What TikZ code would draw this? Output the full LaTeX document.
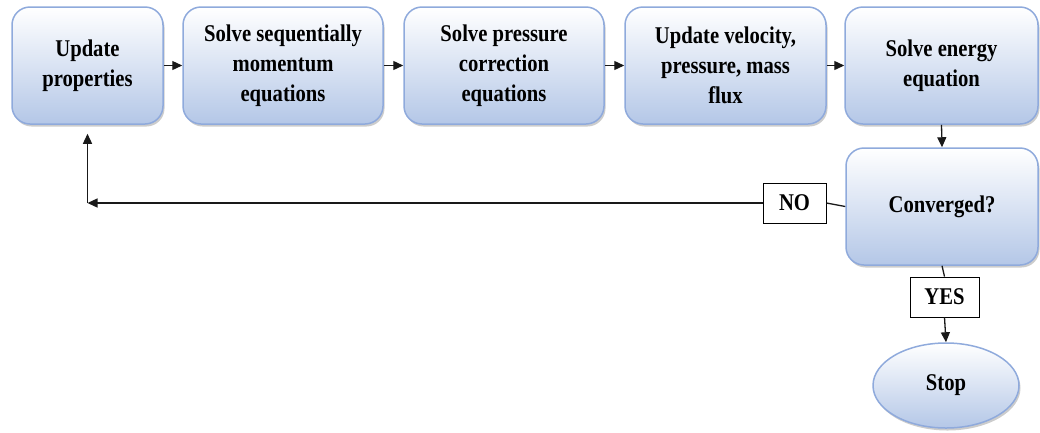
\documentclass[tikz,border=0pt]{standalone}
\usepackage{fontspec}
\setmainfont{Liberation Serif}[FakeStretch=0.86]
\usetikzlibrary{shapes.geometric,shadows,arrows.meta}
\definecolor{boxblue}{HTML}{B4C7E7}
\definecolor{edgeblue}{HTML}{8FAADC}
\begin{document}
\begin{tikzpicture}[x=1pt,y=-1pt,
  txt/.style={font=\fontsize{24}{30}\selectfont\bfseries},
  stepbox/.style={txt, rounded corners=18pt, draw=edgeblue, line width=1.5pt,
    top color=white, bottom color=boxblue, minimum height=117pt, inner sep=0pt,
    align=center,
    drop shadow={opacity=0.4, shadow xshift=1.5pt, shadow yshift=-2.5pt}},
  endshape/.style={txt, ellipse, draw=edgeblue, line width=1.5pt,
    top color=white, bottom color=boxblue, minimum width=146pt, minimum height=85pt,
    inner sep=0pt,
    drop shadow={opacity=0.4, shadow xshift=1.5pt, shadow yshift=-2.5pt}},
  lblbox/.style={txt, draw=black, line width=0.9pt, fill=white, inner sep=0pt},
  conn/.style={line width=1.3pt, draw=black!90},
  arr/.style={-{Triangle[length=10pt,width=9pt]}}
]
\useasboundingbox (0,0) rectangle (1040,432);

\node[stepbox, minimum width=151pt] (b1) at (87.5,65.5) {Update\\properties};
\node[stepbox, minimum width=200pt] (b2) at (283,65.5) {Solve sequentially\\momentum\\equations};
\node[stepbox, minimum width=200pt] (b3) at (504,65.5) {Solve pressure\\correction\\equations};
\node[stepbox, minimum width=201pt] (b4) at (725.5,65.5) {Update velocity,\\pressure, mass\\flux};
\node[stepbox, minimum width=193pt] (b5) at (941.5,65.5) {Solve energy\\equation};
\node[stepbox, minimum width=192pt] (conv) at (942,206.5) {Converged?};
\node[lblbox, minimum width=63pt, minimum height=40pt] (no) at (794.5,203) {NO};
\node[lblbox, minimum width=69pt, minimum height=40pt] (yes) at (944.5,297) {YES};
\node[endshape] (stop) at (946,385.5) {Stop};

\draw[conn,arr] (b1) -- (b2);
\draw[conn,arr] (b2) -- (b3);
\draw[conn,arr] (b3) -- (b4);
\draw[conn,arr] (b4) -- (b5);
\draw[conn,arr] (b5.south) -- (conv.north);
\draw[conn] (conv.west) -- (no.east);
\coordinate (corner) at (b1.south |- no.west);
\coordinate (fbend) at ([yshift=-9pt]b1.south);
\draw[conn,arr] (no.west) -- (corner);
\draw[conn,arr] (corner) -- (fbend);
\draw[conn] (conv.south) -- (yes.north);
\draw[conn,arr] (yes.south) -- (stop.north);
\end{tikzpicture}
\end{document}
